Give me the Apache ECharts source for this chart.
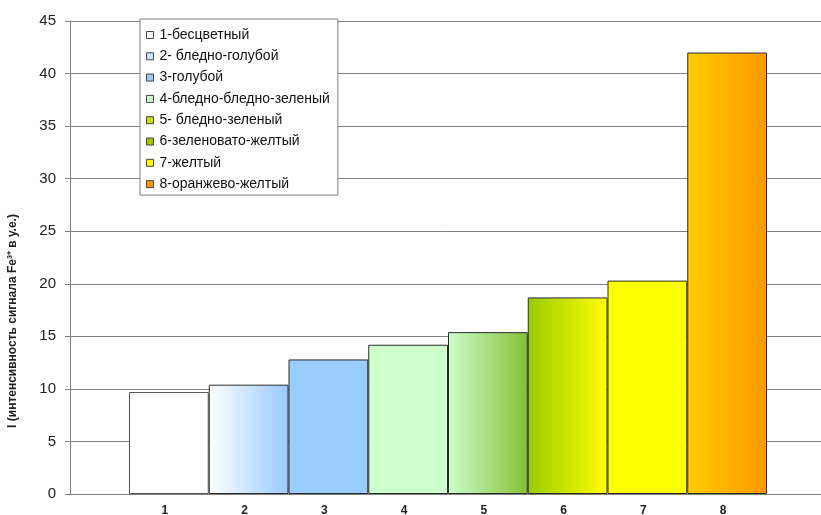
<!DOCTYPE html>
<html>
<head>
<meta charset="utf-8">
<script src="https://cdn.jsdelivr.net/npm/echarts@6/dist/echarts.min.js"></script>
<style>
html,body{margin:0;padding:0;background:#fff;}
#chart{width:821px;height:515px;}
</style>
</head>
<body>
<div id="chart"></div>
<script>
// Sample numbers shown under the bars
var categories = ['1', '2', '3', '4', '5', '6', '7', '8'];
// Legend / series names
var seriesNames = ['1-бесцветный', '2- бледно-голубой', '3-голубой', '4-бледно-бледно-зеленый',
  '5- бледно-зеленый', '6-зеленовато-желтый', '7-желтый', '8-оранжево-желтый'];
// Signal intensity of Fe3+ for each sample, arbitrary units
var intensity = [9.7, 10.4, 12.8, 14.2, 15.4, 18.7, 20.3, 42.0];
// Y axis ticks
var yTicks = [0, 5, 10, 15, 20, 25, 30, 35, 40, 45];

var FONT = 'Liberation Sans, Arial, sans-serif';
var yMin = yTicks[0], yMax = yTicks[yTicks.length - 1], yStep = yTicks[1] - yTicks[0];

function hgrad(a, b) {
  return new echarts.graphic.LinearGradient(0, 0, 1, 0, [
    { offset: 0, color: a }, { offset: 1, color: b }
  ]);
}
var fills = [
  '#ffffff',
  hgrad('#ffffff', '#99c9ff'),
  '#99ccff',
  '#ccffcc',
  hgrad('#ccffcc', '#85c035'),
  hgrad('#99cc00', '#ffff00'),
  '#ffff00',
  hgrad('#ffcc00', '#ff9900')
];
var legendFills = ['#ffffff', '#cfe4fb', '#99ccff', '#ccffcc', '#ccdd00', '#a8c800', '#ffff00', '#ff9900'];

// one series per sample, stacked so every bar fills its whole category slot
var series = seriesNames.map(function (name, i) {
  var data = categories.map(function () { return '-'; });
  data[i] = intensity[i];
  return {
    name: name,
    type: 'bar',
    xAxisIndex: 1,
    yAxisIndex: 1,
    stack: 'all',
    barCategoryGap: '0%',
    data: data,
    itemStyle: {
      color: fills[i],
      borderColor: i === 0 ? '#555555' : '#2b2b2b',
      borderWidth: 1
    }
  };
});

var chart = echarts.init(document.getElementById('chart'), null, { renderer: 'canvas' });
chart.setOption({
  animation: false,
  backgroundColor: '#ffffff',
  grid: [
    // frame: value axis, gridlines and baseline across the full width
    { left: 70, right: 0, top: 21, bottom: 21, outerBoundsMode: 'none', containLabel: false },
    // bars
    { left: 129, width: 638, top: 21, bottom: 21, outerBoundsMode: 'none', containLabel: false }
  ],
  legend: {
    orient: 'vertical',
    left: 140,
    top: 19,
    backgroundColor: '#ffffff',
    borderColor: '#808080',
    borderWidth: 1,
    borderRadius: 0,
    padding: [9, 8, 4, 6],
    itemGap: 7.3,
    itemWidth: 7,
    itemHeight: 7,
    icon: 'rect',
    selectedMode: false,
    textStyle: { fontFamily: FONT, fontSize: 14, color: '#111', lineHeight: 14, padding: [0, 0, 0, 1] },
    data: seriesNames.map(function (n, i) {
      return { name: n, itemStyle: { color: legendFills[i], borderColor: '#444', borderWidth: 1 } };
    })
  },
  xAxis: [{
    gridIndex: 0,
    type: 'category',
    data: [''],
    axisLine: { show: true, lineStyle: { color: '#808080', width: 1 } },
    axisTick: { show: false },
    axisLabel: { show: false },
    splitLine: { show: false }
  }, {
    gridIndex: 1,
    type: 'category',
    data: categories,
    axisLine: { show: false },
    axisTick: { show: false },
    axisLabel: { margin: 11, padding: [0, 8, 0, 0], fontFamily: FONT, fontSize: 12, fontWeight: 'bold', color: '#222' },
    splitLine: { show: false }
  }],
  yAxis: [{
    gridIndex: 0,
    type: 'value',
    min: yMin,
    max: yMax,
    interval: yStep,
    axisLine: { show: true, lineStyle: { color: '#808080', width: 1 } },
    axisTick: { show: true, inside: false, length: 5, lineStyle: { color: '#808080' } },
    axisLabel: { margin: 14, fontFamily: FONT, fontSize: 15, color: '#222' },
    splitLine: { show: true, lineStyle: { color: '#808080', width: 1 } }
  }, {
    gridIndex: 1,
    type: 'value',
    min: yMin,
    max: yMax,
    interval: yStep,
    show: false
  }],
  graphic: [{
    type: 'text',
    x: 13,
    y: 321,
    rotation: Math.PI / 2,
    style: {
      text: 'I (интенсивность сигнала Fe³⁺ в у.е.)',
      fontFamily: FONT,
      fontSize: 12,
      fontWeight: 'bold',
      fill: '#222',
      align: 'center',
      verticalAlign: 'middle'
    }
  }],
  series: series
});
</script>
</body>
</html>
